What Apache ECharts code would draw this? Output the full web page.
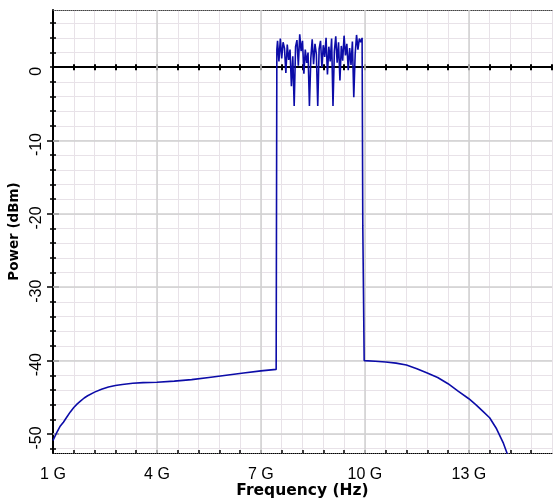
<!DOCTYPE html>
<html>
<head>
<meta charset="utf-8">
<script src="https://cdn.jsdelivr.net/npm/echarts@6/dist/echarts.min.js"></script>
<style>
  html, body { margin: 0; padding: 0; background: #fff; }
  #main { width: 554px; height: 499px; }
</style>
</head>
<body>
<div id="main"></div>
<script>
// left skirt (GHz, dBm)
var skirtFreq = [1.0, 1.1, 1.2, 1.3, 1.4, 1.5, 1.6, 1.7, 1.8, 1.9, 2.0, 2.2, 2.4, 2.6, 2.8, 3.0, 3.3, 3.6,
  4.0, 4.5, 5.0, 5.5, 6.0, 6.5, 7.0, 7.44];
var skirtPower = [-50.9, -49.9, -49.0, -48.4, -47.7, -47.0, -46.4, -45.9, -45.5, -45.1, -44.8, -44.3, -43.9, -43.6,
  -43.4, -43.25, -43.1, -43.0, -42.95, -42.8, -42.6, -42.3, -42.0, -41.7, -41.4, -41.2];

// noisy in-band part
var bandFreq = [7.46, 7.48, 7.52, 7.56, 7.60, 7.64, 7.68, 7.72, 7.76, 7.80, 7.84, 7.88, 7.92, 7.96,
  8.00, 8.04, 8.08, 8.12, 8.16, 8.20, 8.24, 8.28, 8.32, 8.36, 8.40, 8.44, 8.48, 8.52, 8.56, 8.60,
  8.64, 8.68, 8.72, 8.76, 8.80, 8.84, 8.88, 8.92, 8.96, 9.00, 9.04, 9.08, 9.12, 9.16, 9.20, 9.24,
  9.28, 9.32, 9.36, 9.40, 9.44, 9.48, 9.52, 9.56, 9.60, 9.64, 9.68, 9.72, 9.76, 9.80, 9.84, 9.88,
  9.92, 9.94, 9.97];
var bandPower = [2.4, 3.6, 0.8, 3.9, 1.2, 3.4, 2.6, -0.8, 3.1, 1.0, 2.4, -2.6, 1.5, -5.3,
  2.8, 3.7, 0.2, 4.5, 2.2, 3.6, -0.9, 2.4, 0.6, 2.0, -5.3, 1.2, 3.8, 0.4, 3.2, 1.8,
  -5.3, 2.5, 3.6, 0.0, 3.0, 1.4, 4.0, -1.0, 2.8, 0.8, 3.9, -5.3, 2.2, 4.2, 0.6, 3.4,
  -1.8, 2.9, 0.9, 4.3, 1.6, 3.2, -0.4, 2.6, 0.3, 3.5, -4.1, 1.8, 4.4, 2.4, 3.9, 3.4,
  4.0, -21.6, -21.8];

// right tail
var tailFreq = [9.98, 10.3, 10.6, 10.9, 11.2, 11.5, 11.8, 12.1, 12.4, 12.7, 13.0, 13.2, 13.4, 13.6,
  13.8, 14.0, 14.1, 14.2];
var tailPower = [-40.0, -40.1, -40.2, -40.35, -40.6, -41.1, -41.7, -42.3, -43.15, -44.2, -45.2, -46.0, -46.9, -47.8,
  -49.3, -51.3, -52.6, -54.0];

var majorFreq = [4, 7, 10, 13];
var majorPower = [-50, -40, -30, -20, -10];
var powerTicks = [-52, -50, -48, -46, -44, -42, -40, -38, -36, -34, -32, -30, -28, -26, -24, -22, -20,
  -18, -16, -14, -12, -10, -8, -6, -4, -2, 0, 2, 4, 6];
var powerLabels = [-50, -40, -30, -20, -10, 0];

var freqAll = skirtFreq.concat(bandFreq, tailFreq);
var powerAll = skirtPower.concat(bandPower, tailPower);
var points = freqAll.map(function (f, i) { return [f, powerAll[i]]; });

var X_MIN = 1, X_MAX = 15.4, Y_MIN = -52.6, Y_MAX = 7.8;
var minorGrid = '#e8e2e8';
var labelFont = 'Liberation Sans, Arial, sans-serif';
var titleFont = 'DejaVu Sans, Verdana, sans-serif';

function xAxisBase(extra) {
  var a = {
    type: 'value', min: X_MIN, max: X_MAX, interval: 0.6,
    axisLabel: { show: false },
    axisTick: { show: false },
    splitLine: { show: false },
    axisLine: { show: false }
  };
  for (var k in extra) a[k] = extra[k];
  return a;
}
function yAxisBase(extra) {
  var a = {
    type: 'value', min: Y_MIN, max: Y_MAX, position: 'left',
    axisLabel: { show: false },
    axisTick: { show: false, customValues: powerTicks },
    splitLine: { show: false },
    axisLine: { show: false }
  };
  for (var k in extra) a[k] = extra[k];
  return a;
}

var chart = echarts.init(document.getElementById('main'));
chart.setOption({
  animation: false,
  backgroundColor: '#fff',
  grid: { left: 53, right: 2, top: 10, bottom: 46, containLabel: false, outerBoundsMode: 'none' },
  xAxis: [
    // zero line with grid
    xAxisBase({
      position: 'bottom',
      axisLine: { show: true, onZero: true, lineStyle: { color: '#000', width: 2 } },
      axisTick: { show: true, inside: false, length: 3, lineStyle: { color: '#000', width: 2 } },
      splitLine: { show: true, lineStyle: { color: minorGrid, width: 1 } }
    }),
    // bottom axis with labels
    xAxisBase({
      position: 'bottom',
      axisLine: { show: true, onZero: false, lineStyle: { color: '#000', width: 1, type: 'dotted' } },
      axisTick: { show: true, inside: true, length: 3, lineStyle: { color: '#000', width: 1.5 } },
      axisLabel: {
        show: true, color: '#000', fontFamily: labelFont, fontSize: 16, margin: 14,
        showMinLabel: true, showMaxLabel: false,
        formatter: function (v) {
          var k = (v - 1) / 3;
          return Math.abs(k - Math.round(k)) < 1e-6 ? Math.round(v) + ' G' : '';
        }
      },
      name: 'Frequency (Hz)', nameLocation: 'middle', nameGap: 30, nameMoveOverlap: false,
      nameTextStyle: { color: '#000', fontFamily: titleFont, fontWeight: 'bold', fontSize: 15.5 }
    }),
    // top dotted border
    xAxisBase({
      position: 'top',
      axisLine: { show: true, onZero: false, lineStyle: { color: '#444', width: 1, type: 'dotted' } }
    }),
    // upward half of zero-line ticks
    xAxisBase({
      position: 'bottom',
      axisLine: { show: false, onZero: true },
      axisTick: { show: true, inside: true, length: 3, lineStyle: { color: '#000', width: 2 } }
    })
  ],
  yAxis: [
    yAxisBase({
      axisLine: { show: true, onZero: false, lineStyle: { color: '#000', width: 2 } },
      axisTick: { show: true, inside: false, length: 3, customValues: powerTicks, lineStyle: { color: '#000', width: 1.5 } },
      splitLine: { show: true, lineStyle: { color: minorGrid, width: 1 } },
      axisLabel: {
        show: true, rotate: 90, color: '#000', fontFamily: labelFont, fontSize: 16, margin: 8,
        padding: [0, 8, 0, 0],
        customValues: powerLabels,
        formatter: function (v) { return String(Math.round(v)); }
      },
      name: 'Power (dBm)', nameLocation: 'middle', nameGap: 31,
      nameTextStyle: { color: '#000', fontFamily: titleFont, fontWeight: 'bold', fontSize: 13.5 }
    }),
    yAxisBase({
      axisTick: { show: true, inside: true, length: 3, customValues: powerTicks, lineStyle: { color: '#000', width: 1.5 } }
    }),
    // longer major ticks
    yAxisBase({
      axisTick: { show: true, inside: false, length: 6, customValues: majorPower, lineStyle: { color: '#000', width: 1.5 } }
    }),
    yAxisBase({
      axisTick: { show: true, inside: true, length: 6, customValues: majorPower, lineStyle: { color: '#000', width: 1.5 } }
    })
  ],
  series: [
    {
      type: 'line', xAxisIndex: 0, yAxisIndex: 0, data: [], z: 1, silent: true,
      markLine: {
        silent: true, symbol: 'none', animation: false,
        label: { show: false },
        lineStyle: { color: '#d0d0d0', width: 1.5, type: 'solid' },
        data: majorFreq.map(function (v) { return { xAxis: v }; })
          .concat(majorPower.map(function (v) { return { yAxis: v }; }))
      }
    },
    {
      type: 'line', xAxisIndex: 0, yAxisIndex: 0, data: points, z: 5,
      showSymbol: false, symbol: 'none', clip: true,
      lineStyle: { color: '#0c0ca8', width: 1.6 }
    }
  ]
});
</script>
</body>
</html>
